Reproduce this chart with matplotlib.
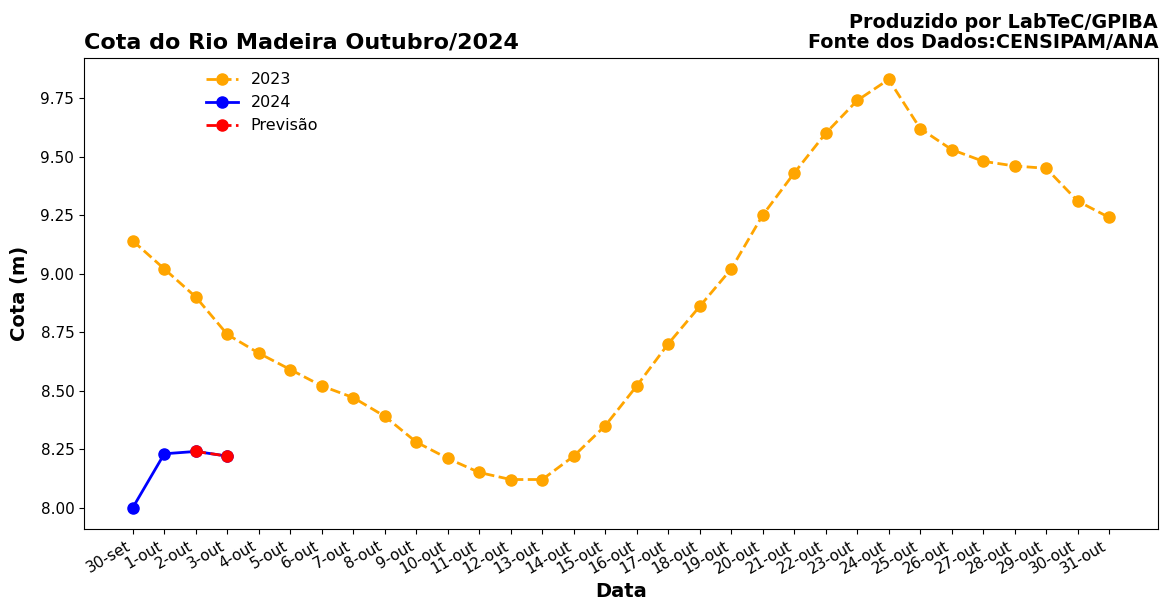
import matplotlib
matplotlib.use("Agg")
import matplotlib.pyplot as plt

labels = ["30-set"] + [f"{d}-out" for d in range(1, 32)]
cota_2023 = [9.14, 9.02, 8.90, 8.74, 8.66, 8.59, 8.52, 8.47, 8.39, 8.28, 8.21,
             8.15, 8.12, 8.12, 8.22, 8.35, 8.52, 8.70, 8.86, 9.02, 9.25, 9.43,
             9.60, 9.74, 9.83, 9.62, 9.53, 9.48, 9.46, 9.45, 9.31, 9.24]
cota_2024 = [8.00, 8.23, 8.24, 8.22]
previsao_idx = [2, 3]
previsao = [8.24, 8.22]
yticks = [8.00, 8.25, 8.50, 8.75, 9.00, 9.25, 9.50, 9.75]

fig = plt.figure(figsize=(11.63, 6.03), dpi=100)
ax = fig.add_axes([84/1163, 1-529/603, (1158-84)/1163, (529-58)/603])

x = list(range(len(labels)))
ax.plot(x, cota_2023, linestyle='--', marker='o', color='orange', lw=2, markersize=8, label='2023')
ax.plot(x[:len(cota_2024)], cota_2024, linestyle='-', marker='o', color='blue', lw=2, markersize=8, label='2024')
ax.plot(previsao_idx, previsao, linestyle='--', marker='o', color='red', lw=2, markersize=8, label='Previsão')

ax.set_xticks(x)
ax.set_xticklabels(labels, rotation=30, ha='right', fontsize=11)
ax.set_yticks(yticks)
ax.set_yticklabels([f"{v:.2f}" for v in yticks], fontsize=11)

ax.set_xlabel("Data", fontsize=14, fontweight='bold')
ax.set_ylabel("Cota (m)", fontsize=14, fontweight='bold', labelpad=8)
ax.set_title("Cota do Rio Madeira Outubro/2024", loc='left', fontsize=16, fontweight='bold', pad=7)
ax.set_title("Produzido por LabTeC/GPIBA\nFonte dos Dados:CENSIPAM/ANA", loc='right', fontsize=13.75, fontweight='bold',
             linespacing=1.1, pad=7)

ax.legend(loc='upper left', bbox_to_anchor=(0.1, 1.0), frameon=False, fontsize=11.5)

fig.savefig("out.png", dpi=100)
